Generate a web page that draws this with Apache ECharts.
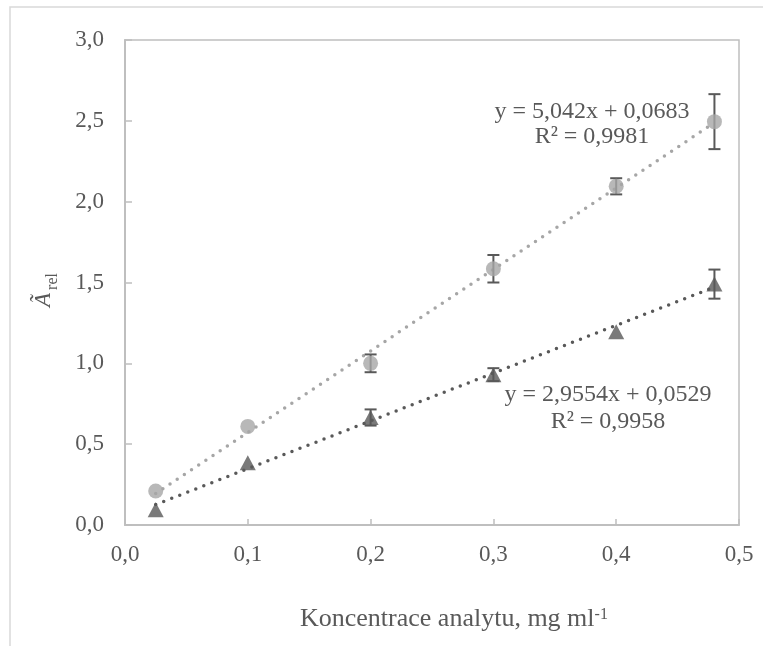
<!DOCTYPE html>
<html>
<head>
<meta charset="utf-8">
<script src="https://cdn.jsdelivr.net/npm/echarts@6/dist/echarts.min.js"></script>
<style>
  html, body { margin: 0; padding: 0; background: #ffffff; }
  #chart { width: 763px; height: 646px; }
</style>
</head>
<body>
<div id="chart"></div>
<script>
// Concentrations (mg/ml)
var concentrations = [0.025, 0.1, 0.2, 0.3, 0.4, 0.48];

// Series 1 (circles): mean relative absorbance and standard deviation
var circleValues = [0.21, 0.61, 1.00, 1.585, 2.095, 2.495];
var circleErrors = [null, null, 0.055, 0.085, 0.05, 0.17];

// Series 2 (triangles): mean relative absorbance and standard deviation
var triangleValues = [0.095, 0.385, 0.665, 0.93, 1.195, 1.49];
var triangleErrors = [null, null, 0.05, 0.04, null, 0.09];

// Linear fits as stated by the equation labels
var circleFit = { slope: 5.042, intercept: 0.0683, r2: 0.9981 };
var triangleFit = { slope: 2.9554, intercept: 0.0529, r2: 0.9958 };

// Axis ticks
var xTicks = { min: 0, max: 0.5, step: 0.1 };
var yTicks = { min: 0, max: 3, step: 0.5 };

var SERIF = "'Liberation Serif', 'Times New Roman', 'DejaVu Serif', serif";
var TEXT = '#595959';
var AXIS = '#bfbfbf';
var LIGHT = '#a6a6a6';
var DARK = '#595959';

// offset from the canvas "middle" line down to the alphabetic baseline, in em
var MID_TO_BASE = 0.33;

function comma(v, digits) {
  return v.toFixed(digits).replace('.', ',');
}

function points(xs, ys) {
  return xs.map(function (x, i) { return [x, ys[i]]; });
}

function errorData(xs, ys, es) {
  var out = [];
  xs.forEach(function (x, i) {
    if (es[i] != null) out.push([x, ys[i] - es[i], ys[i] + es[i]]);
  });
  return out;
}

function fitLine(fit, xs) {
  var x0 = xs[0], x1 = xs[xs.length - 1];
  return [[x0, fit.slope * x0 + fit.intercept], [x1, fit.slope * x1 + fit.intercept]];
}

function renderErrorBar(params, api) {
  var x = api.value(0);
  var lo = api.coord([x, api.value(1)]);
  var hi = api.coord([x, api.value(2)]);
  var half = 6;
  var style = { stroke: DARK, lineWidth: 2, fill: null };
  return {
    type: 'group',
    children: [
      { type: 'line', shape: { x1: lo[0], y1: lo[1], x2: hi[0], y2: hi[1] }, style: style },
      { type: 'line', shape: { x1: lo[0] - half, y1: lo[1], x2: lo[0] + half, y2: lo[1] }, style: style },
      { type: 'line', shape: { x1: hi[0] - half, y1: hi[1], x2: hi[0] + half, y2: hi[1] }, style: style }
    ]
  };
}

function equationText(fit, digits) {
  return 'y = ' + comma(fit.slope, digits) + 'x + ' + comma(fit.intercept, 4);
}

// text width helper for placing superscripts / subscripts
var measureCtx = document.createElement('canvas').getContext('2d');
function textWidth(str, font) {
  measureCtx.font = font;
  return measureCtx.measureText(str).width;
}

// a text element positioned by its alphabetic baseline
function baselineText(x, baseline, str, size, extra) {
  var font = (extra || '') + size + 'px ' + SERIF;
  return {
    type: 'text', x: x, y: baseline - MID_TO_BASE * size,
    style: { text: str, font: font, fill: TEXT, align: 'left', verticalAlign: 'middle' }
  };
}

function centeredText(x, baseline, str, size) {
  var t = baselineText(x, baseline, str, size);
  t.style.align = 'center';
  return t;
}

var titleFont = 26;
var titleMain = 'Koncentrace analytu, mg ml';
var titleLeft = 300;
var titleMainW = textWidth(titleMain, titleFont + 'px ' + SERIF);

var aFont = 23;
var aW = textWidth('Ã', 'italic ' + aFont + 'px ' + SERIF);

var chart = echarts.init(document.getElementById('chart'), null, { renderer: 'canvas' });

chart.setOption({
  backgroundColor: '#ffffff',
  animation: false,
  grid: {
    left: 125, right: 24, top: 40, bottom: 121,
    containLabel: false,
    outerBoundsMode: 'none',
    show: true,
    borderColor: AXIS,
    borderWidth: 1.5,
    backgroundColor: 'transparent'
  },
  xAxis: {
    type: 'value',
    min: xTicks.min, max: xTicks.max, interval: xTicks.step,
    axisLine: { show: true, onZero: false, lineStyle: { color: AXIS, width: 2 } },
    axisTick: { show: true, inside: true, length: 6, lineStyle: { color: AXIS, width: 1.5 } },
    splitLine: { show: false },
    axisLabel: {
      margin: 18,
      color: TEXT,
      fontFamily: SERIF,
      fontSize: 23,
      formatter: function (v) { return comma(v, 1); }
    }
  },
  yAxis: {
    type: 'value',
    min: yTicks.min, max: yTicks.max, interval: yTicks.step,
    axisLine: { show: true, onZero: false, lineStyle: { color: AXIS, width: 2 } },
    axisTick: { show: true, inside: true, length: 7, lineStyle: { color: AXIS, width: 1.5 } },
    splitLine: { show: false },
    axisLabel: {
      margin: 21,
      color: TEXT,
      fontFamily: SERIF,
      fontSize: 23,
      formatter: function (v) { return comma(v, 1); }
    }
  },
  series: [
    {
      name: 'fit circles',
      type: 'line',
      data: fitLine(circleFit, concentrations),
      symbol: 'none',
      z: 1,
      lineStyle: { color: LIGHT, width: 3.5, type: [0, 8.6], cap: 'round' }
    },
    {
      name: 'fit triangles',
      type: 'line',
      data: fitLine(triangleFit, concentrations),
      symbol: 'none',
      z: 1,
      lineStyle: { color: DARK, width: 3.5, type: [0, 8.6], cap: 'round' }
    },
    {
      name: 'err circles',
      type: 'custom',
      renderItem: renderErrorBar,
      data: errorData(concentrations, circleValues, circleErrors),
      z: 2
    },
    {
      name: 'err triangles',
      type: 'custom',
      renderItem: renderErrorBar,
      data: errorData(concentrations, triangleValues, triangleErrors),
      z: 2
    },
    {
      name: 'circles',
      type: 'scatter',
      data: points(concentrations, circleValues),
      symbol: 'circle',
      symbolSize: 15,
      itemStyle: { color: LIGHT },
      z: 3
    },
    {
      name: 'triangles',
      type: 'scatter',
      data: points(concentrations, triangleValues),
      symbol: 'triangle',
      symbolSize: [16, 15],
      itemStyle: { color: DARK },
      z: 3
    }
  ],
  graphic: [
    // outer chart frame
    {
      type: 'rect', silent: true,
      shape: { x: 10, y: 7, width: 900, height: 800 },
      style: { fill: null, stroke: '#d9d9d9', lineWidth: 1.5 }
    },
    // fit equations
    centeredText(592, 120, equationText(circleFit, 3), 24),
    centeredText(592, 145, 'R² = ' + comma(circleFit.r2, 4), 24),
    centeredText(608, 403, equationText(triangleFit, 4), 24),
    centeredText(608, 430, 'R² = ' + comma(triangleFit.r2, 4), 24),
    // x axis title with superscript
    baselineText(titleLeft, 628, titleMain, titleFont),
    baselineText(titleLeft + titleMainW, 620, '-1', 16),
    // y axis title: Ã with subscript "rel", rotated to read upwards
    {
      type: 'group', x: 52, y: 307, rotation: Math.PI / 2,
      children: [
        baselineText(0, 0, 'Ã', aFont, 'italic '),
        baselineText(aW + 3, 6, 'rel', 16)
      ]
    }
  ]
});
</script>
</body>
</html>
